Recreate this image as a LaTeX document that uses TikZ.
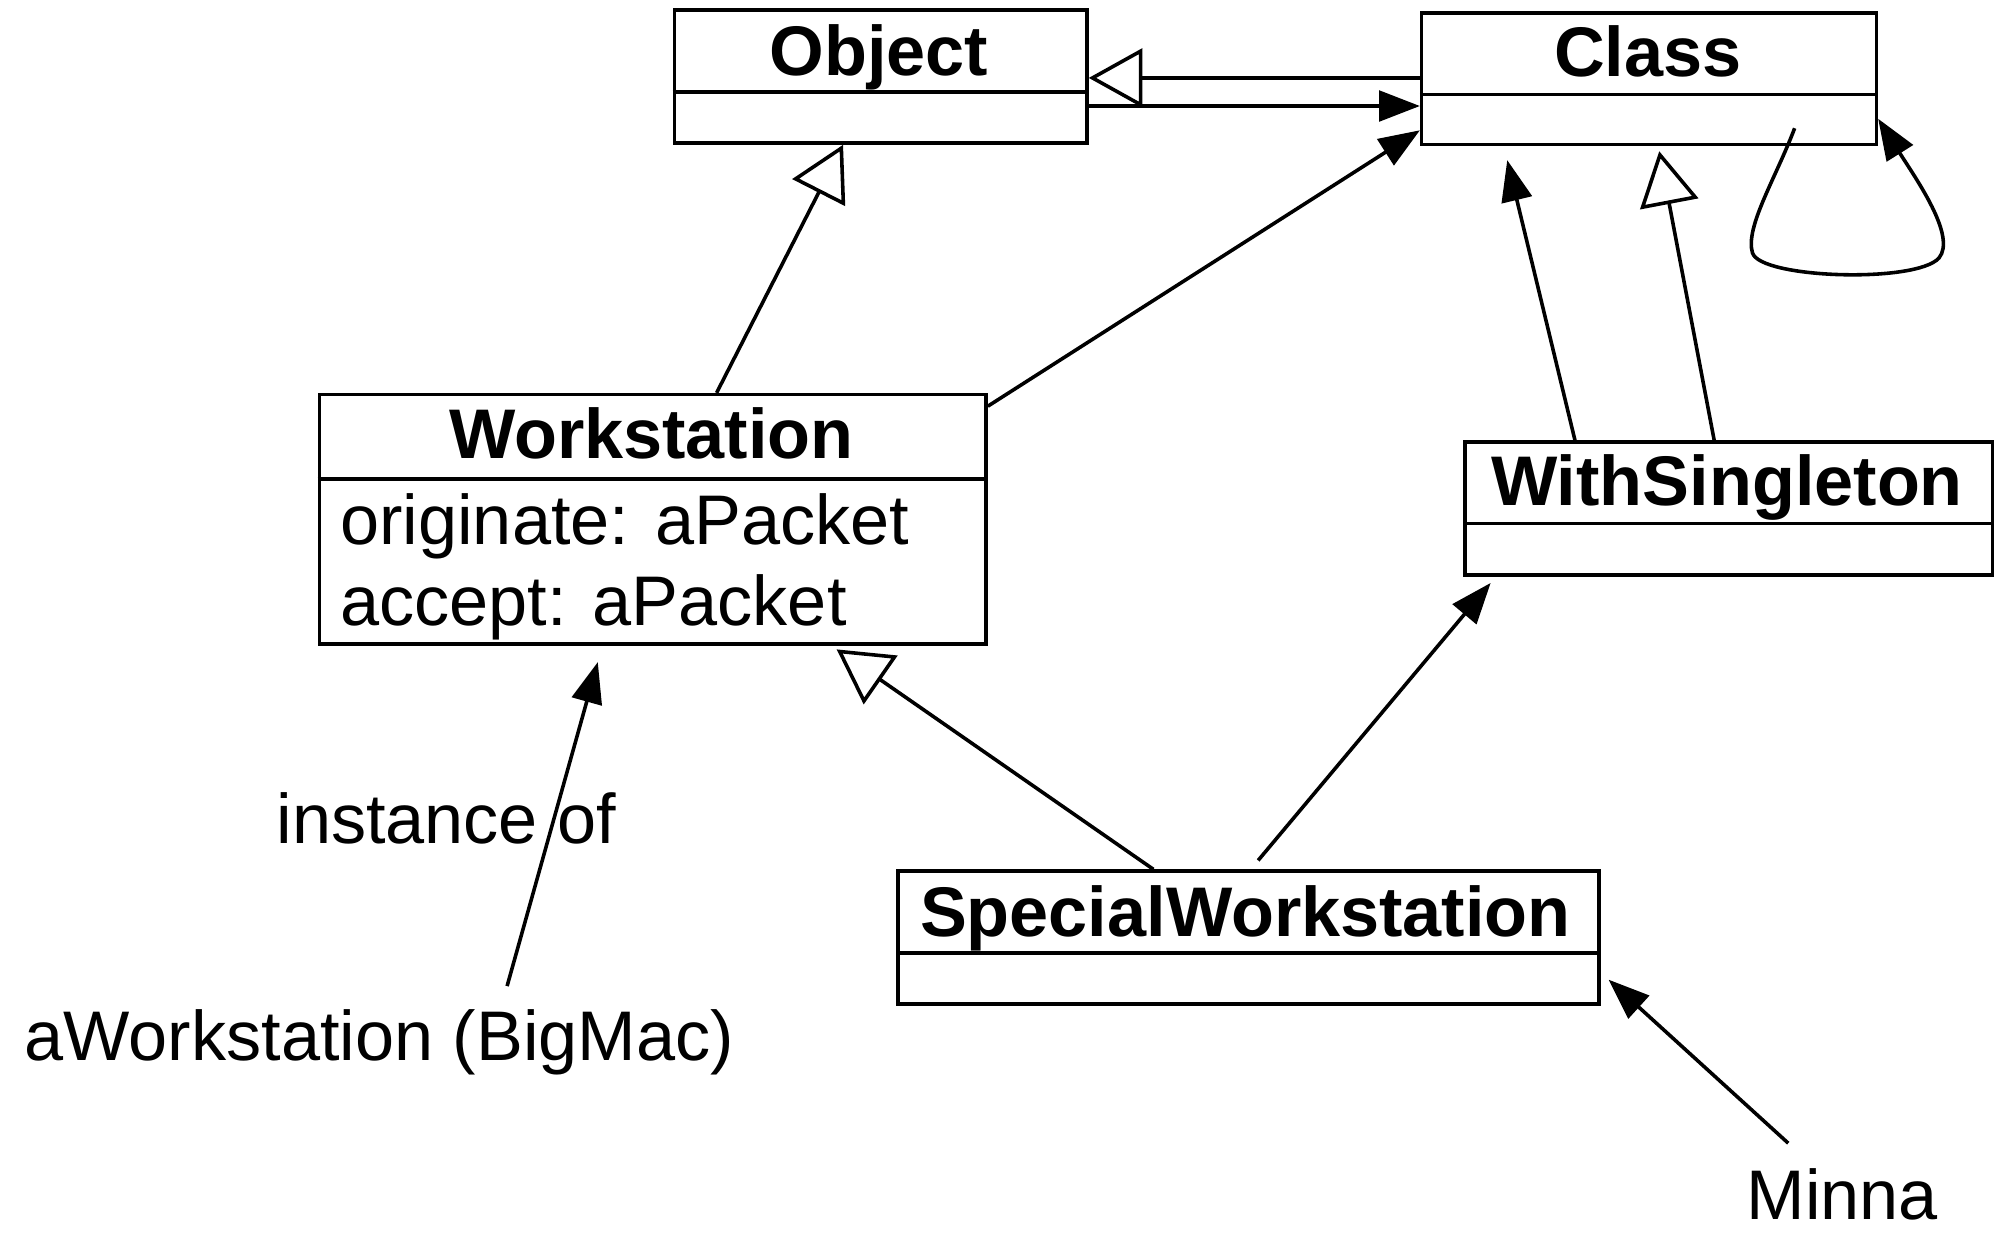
\documentclass[tikz,border=0pt]{standalone}
\usepackage{fontspec}
\setmainfont{Liberation Sans}
\usetikzlibrary{arrows.meta,fit,calc}
\begin{document}
\begin{tikzpicture}[x=0.5pt,y=-0.5pt,
  line width=1.4pt,
  umlbox/.style={draw, inner sep=0pt, fit={#1}},
  ttl/.style={font=\fontsize{27.5}{33}\selectfont\bfseries, anchor=base, inner sep=0pt},
  txt/.style={font=\fontsize{27.5}{33}\selectfont, anchor=base west, inner sep=0pt},
  gen/.style={-{Triangle[open,length=21pt,width=23pt]}},
  assoc/.style={-{Triangle[length=16pt,width=12pt]}},
]
\useasboundingbox[fill=white] (0,0) rectangle (1565,968);

% boxes
\node[umlbox={(528,8) (851,112)}] (object) {};
\node[umlbox={(1113,10) (1469,113)}] (class) {};
\node[umlbox={(250,309) (772,504)}] (workstation) {};
\node[umlbox={(1147,346) (1560,450)}] (withsingleton) {};
\node[umlbox={(703,682) (1252,786)}] (specialws) {};

% dividers
\draw (object.west |- 0,72) -- (object.east |- 0,72);
\draw (class.west |- 0,74) -- (class.east |- 0,74);
\draw (workstation.west |- 0,375) -- (workstation.east |- 0,375);
\draw (withsingleton.west |- 0,410) -- (withsingleton.east |- 0,410);
\draw (specialws.west |- 0,746) -- (specialws.east |- 0,746);

% titles
\node[ttl] (objectT) at (688,59) {Object};
\node[ttl] (classT) at (1290,60) {Class};
\node[ttl] (workstationT) at (510,359) {Workstation};
\node[ttl] (withsingletonT) at (1352,396) {WithSingleton};
\node[ttl] (specialwsT) at (975,733) {SpecialWorkstation};

% operations
\node[txt] (op1) at (265,426) {originate: aPacket};
\node[txt] (op2) at (265,490) {accept: aPacket};

% free labels
\node[txt] (instof) at (215,660) {instance of};
\node[txt] (bigmac) at (18,830) {aWorkstation (BigMac)};
\node[txt] (minna) at (1366,955) {Minna};
\coordinate (bigmacTop) at (397,772);
\coordinate (minnaTop) at (1400,895);

% connectors
\draw[gen] (class.west |- 0,61) -- (object.east |- 0,61);
\draw[assoc] (object.east |- 0,83) -- (class.west |- 0,83);
\draw[gen] (561,0 |- workstation.north) -- (660,0 |- object.south);
\draw[assoc] (workstation.east |- 0,318) -- (class.west |- 0,102);
\draw[assoc] (1233,0 |- withsingleton.north) -- ($(1180,0 |- class.south)+(0,11)$);
\draw[gen] (1342,0 |- withsingleton.north) -- ($(1299,0 |- class.south)+(0,4)$);
\draw[assoc] ($(1405,0 |- class.south)+(0,-14)$)
  .. controls (1390,140) and (1366,178) .. (1372,198)
  .. controls (1378,218) and (1500,222) .. (1518,202)
  .. controls (1532,185) and (1500,140) .. (class.east |- 0,93);
\draw[gen] (903,0 |- specialws.north) -- ($(655,0 |- workstation.south)+(0,3)$);
\draw[assoc] ($(985,0 |- specialws.north)+(0,-7)$) -- ($(1167,0 |- withsingleton.south)+(0,5)$);
\draw[assoc] (bigmacTop) -- ($(468,0 |- workstation.south)+(0,13)$);
\draw[assoc] (minnaTop) -- ($(specialws.east |- 0,767)+(6,0)$);
\end{tikzpicture}
\end{document}
